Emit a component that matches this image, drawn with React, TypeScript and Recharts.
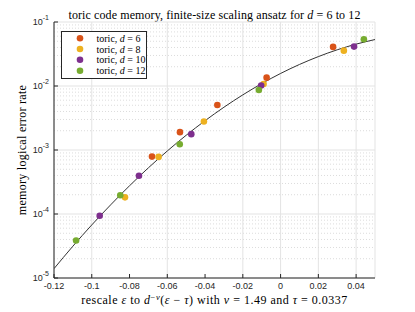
import {
  ComposedChart,
  Scatter,
  Line,
  XAxis,
  YAxis,
  CartesianGrid,
  ReferenceLine,
  Legend,
} from "recharts"

// rescaled x and logical error rate per code distance
const d6X = [0.0278, -0.0074, -0.0335, -0.0533, -0.0681]
const d6Y = [0.0408, 0.0135, 0.00506, 0.0019, 0.000789]
const d8X = [0.0335, -0.009, -0.0406, -0.0646, -0.0824]
const d8Y = [0.0357, 0.01074, 0.00279, 0.00078, 0.000182]
const d10X = [0.0389, -0.0103, -0.0473, -0.075, -0.0958]
const d10Y = [0.0413, 0.0102, 0.00177, 0.000397, 0.0000938]
const d12X = [0.0441, -0.0115, -0.0534, -0.0849, -0.1083]
const d12Y = [0.0537, 0.00865, 0.00123, 0.000196, 0.0000386]

// ansatz curve
const fitX = [-0.12, -0.11, -0.1, -0.09, -0.08, -0.07, -0.06, -0.05, -0.04, -0.03, -0.02, -0.01, 0, 0.01, 0.02, 0.03, 0.04, 0.05]
const fitY = [
  0.000014, 0.0000314, 0.0000675, 0.000139, 0.000276, 0.000527, 0.000965, 0.0017, 0.00287, 0.00466, 0.00727,
  0.0109, 0.0157, 0.0217, 0.0288, 0.0368, 0.0451, 0.0532,
]

const distances = [6, 8, 10, 12]
const colors = ["#D95319", "#EDB120", "#7E2F8E", "#77AC30"]
const xTicks = [-0.12, -0.1, -0.08, -0.06, -0.04, -0.02, 0, 0.02, 0.04]
const yTicks = [1e-5, 1e-4, 1e-3, 1e-2, 1e-1]
const minorY = [1e-5, 1e-4, 1e-3, 1e-2].flatMap((p) => [2, 3, 4, 5, 6, 7, 8, 9].map((m) => m * p))

const toPoints = (xs: number[], ys: number[]) => xs.map((x, i) => ({ x, y: ys[i] }))
const series = [toPoints(d6X, d6Y), toPoints(d8X, d8Y), toPoints(d10X, d10Y), toPoints(d12X, d12Y)]
const fit = toPoints(fitX, fitY)

const SERIF = "'Liberation Serif', 'DejaVu Serif', serif"
const SANS = "'Liberation Sans', Arial, sans-serif"
const INK = "#262626"

const YTick = (props: any) => {
  const { x, y, payload } = props
  const exp = Math.round(Math.log10(payload.value))
  return (
    <text x={x} y={y + 3} textAnchor="end" fontSize={9} fontFamily={SANS} fill={INK}>
      10
      <tspan dy={-5} fontSize={7}>
        {exp}
      </tspan>
    </text>
  )
}

const XLabel = (props: any) => {
  const { viewBox } = props
  return (
    <text
      x={viewBox.x + viewBox.width / 2}
      y={viewBox.y + 26}
      textAnchor="middle"
      fontSize={12}
      letterSpacing={0.5}
      fontFamily={SERIF}
      fill="#000"
    >
      {"rescale "}
      <tspan fontStyle="italic">ε</tspan>
      {" to "}
      <tspan fontStyle="italic">d</tspan>
      <tspan dy={-4.5} fontSize={8.5}>−</tspan>
      <tspan fontSize={8.5} fontStyle="italic">ν</tspan>
      <tspan dy={4.5}>(</tspan>
      <tspan fontStyle="italic">ε</tspan>
      {" − "}
      <tspan fontStyle="italic">τ</tspan>
      {") with "}
      <tspan fontStyle="italic">ν</tspan>
      {" = 1.49 and "}
      <tspan fontStyle="italic">τ</tspan>
      {" = 0.0337"}
    </text>
  )
}

const YLabel = () => (
  <text
    x={26}
    y={150}
    transform="rotate(-90, 26, 150)"
    textAnchor="middle"
    fontSize={12}
    letterSpacing={0.3}
    fontFamily={SERIF}
    fill="#000"
  >
    memory logical error rate
  </text>
)

const LegendBox = (props: any) => {
  const items = (props.payload || [])
    .filter((e: any) => e.type !== "none")
    .map((e: any) => {
      const [head, num] = String(e.value).split("d = ")
      return { head, num, color: e.color }
    })
    .sort((a: any, b: any) => Number(a.num) - Number(b.num))
  const rows = [7.3, 18, 28.7, 39.7]
  return (
    <svg width={86} height={48} style={{ display: "block" }}>
      <rect x={0.5} y={0.5} width={85} height={47} fill="#fff" stroke={INK} strokeWidth={1} />
      {items.map((e: any, i: number) => (
        <g key={e.num}>
          <circle cx={19} cy={rows[i]} r={3.3} fill={e.color} />
          <text x={35.5} y={rows[i] + 3.5} fontSize={10} fontFamily={SERIF} fill="#000">
            {e.head}
            <tspan fontStyle="italic">d</tspan>
            {" = " + e.num}
          </text>
        </g>
      ))}
    </svg>
  )
}

export default function App() {
  return (
    <div style={{ position: "absolute", left: 0, top: 0, width: 415, height: 312, background: "#fff" }}>
      <svg width={415} height={22} style={{ position: "absolute", left: 0, top: 0 }}>
        <text x={214.5} y={19} textAnchor="middle" fontSize={12} letterSpacing={0.1} fontFamily={SERIF} fill="#000">
          {"toric code memory, finite-size scaling ansatz for "}
          <tspan fontStyle="italic">d</tspan>
          {" = 6 to 12"}
        </text>
      </svg>
      <ComposedChart width={415} height={312} margin={{ top: 22, right: 40, bottom: 0, left: 0 }}>
        <CartesianGrid stroke="#e3e3e3" />
        {minorY.map((v) => (
          <ReferenceLine key={v} y={v} stroke="#dcdcdc" strokeDasharray="1 2" />
        ))}
        <XAxis
          type="number"
          dataKey="x"
          domain={[-0.12, 0.05]}
          ticks={xTicks}
          allowDataOverflow
          height={34}
          tickSize={-4}
          tickMargin={9}
          stroke={INK}
          tick={{ fontSize: 9, fontFamily: SANS, fill: INK }}
          tickFormatter={(v: number) => String(Number(v.toFixed(2)))}
          label={{ content: XLabel }}
        />
        <XAxis
          xAxisId="top"
          orientation="top"
          type="number"
          domain={[-0.12, 0.05]}
          ticks={xTicks}
          allowDataOverflow
          height={0}
          tickSize={-4}
          tick={false}
          stroke={INK}
        />
        <YAxis
          type="number"
          scale="log"
          domain={[1e-5, 1e-1]}
          ticks={yTicks}
          allowDataOverflow
          width={54}
          tickSize={-4}
          tickMargin={9}
          stroke={INK}
          tick={<YTick />}
          label={{ content: YLabel }}
        />
        <YAxis
          yAxisId="right"
          orientation="right"
          type="number"
          scale="log"
          domain={[1e-5, 1e-1]}
          ticks={yTicks}
          allowDataOverflow
          width={0}
          tickSize={-4}
          tick={false}
          stroke={INK}
        />
        <Line
          data={fit}
          dataKey="y"
          type="monotone"
          stroke="#333"
          strokeWidth={1}
          dot={false}
          legendType="none"
          isAnimationActive={false}
        />
        {series.map((pts, i) => (
          <Scatter
            key={distances[i]}
            name={`toric, d = ${distances[i]}`}
            data={pts}
            dataKey="y"
            fill={colors[i]}
            isAnimationActive={false}
            shape={(p: any) => <circle cx={p.cx} cy={p.cy} r={3.3} fill={colors[i]} />}
          />
        ))}
        <Legend
          layout="vertical"
          align="center"
          verticalAlign="middle"
          content={LegendBox}
          wrapperStyle={{ left: 61, top: 31, width: 86, height: 48 }}
        />
      </ComposedChart>
    </div>
  )
}
